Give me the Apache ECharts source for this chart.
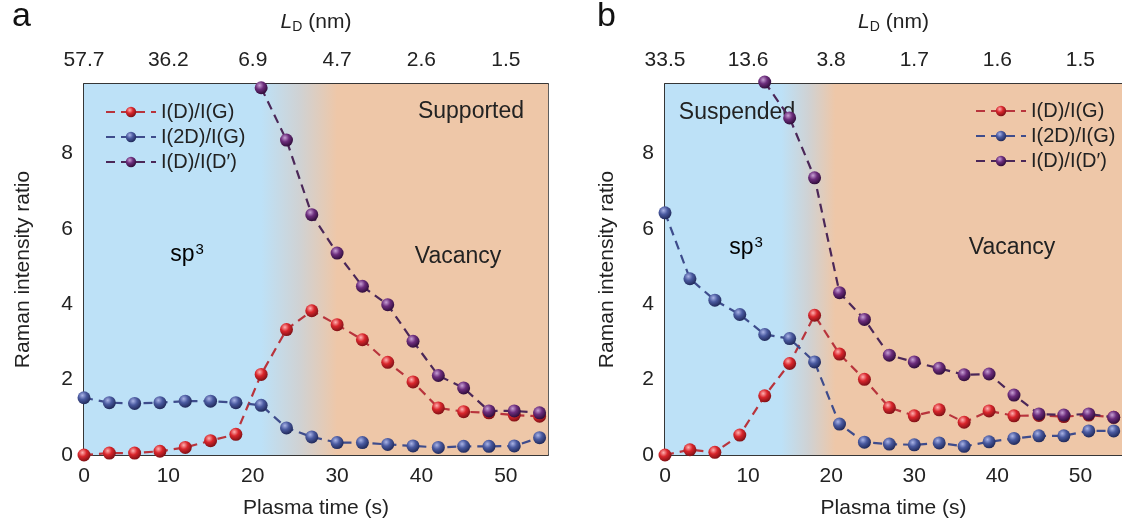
<!DOCTYPE html>
<html><head><meta charset="utf-8">
<script src="https://cdn.jsdelivr.net/npm/echarts@6/dist/echarts.min.js"></script>
<style>html,body{margin:0;padding:0;background:#fff;}#c{width:1122px;height:527px;}</style>
</head><body><div id="c"></div>
<script>
// ---- data ----
const times = [0,3,6,9,12,15,18,21,24,27,30,33,36,39,42,45,48,51,54];
const topLabelsA = ['57.7','36.2','6.9','4.7','2.6','1.5'];
const topLabelsB = ['33.5','13.6','3.8','1.7','1.6','1.5'];
const seriesNames = ['I(D)/I(G)','I(2D)/I(G)','I(D)/I(D\u2032)'];

// panel a (Supported)
const aDG   = [0,0.05,0.05,0.1,0.2,0.38,0.55,2.14,3.33,3.83,3.46,3.06,2.46,1.94,1.25,1.15,1.12,1.06,1.03];
const a2DG  = [1.52,1.39,1.37,1.39,1.43,1.43,1.39,1.32,0.72,0.48,0.33,0.33,0.28,0.24,0.2,0.23,0.23,0.24,0.46];
const aDDp  = [null,null,null,null,null,null,null,9.75,8.36,6.38,5.36,4.48,3.99,3.02,2.11,1.78,1.17,1.17,1.12];

// panel b (Suspended)
const bDG   = [0,0.14,0.07,0.53,1.57,2.43,3.71,2.68,2.01,1.26,1.04,1.2,0.87,1.17,1.04,1.05,1.02,1.06,1.0];
const b2DG  = [6.43,4.68,4.11,3.73,3.2,3.09,2.47,0.82,0.34,0.29,0.27,0.32,0.23,0.35,0.44,0.51,0.51,0.64,0.64];
const bDDp  = [null,null,null,null,9.9,8.95,7.36,4.31,3.6,2.65,2.47,2.3,2.13,2.15,1.59,1.09,1.06,1.09,1.0];

// background regions (plasma time, s)
const X_MAX = 55, Y_MAX = 9.85;
const regionA = [21, 30];
const regionB = [14, 20.5];

// ---- styling ----
const FONT = '"Liberation Sans", Arial, sans-serif';
const ballColors = [
  ['#ffb0b0','#d9262c','#7d1015'],
  ['#aab4e6','#4a5aa0','#1f2858'],
  ['#c7a0d4','#6c2d7c','#2e0c38']
];
const lineColors = ['#b8343c','#3e4c8c','#4b2758'];
function ball(i){
  const c = ballColors[i];
  return {type:'radial', x:0.38, y:0.32, r:0.7,
    colorStops:[{offset:0,color:c[0]},{offset:0.45,color:c[1]},{offset:1,color:c[2]}]};
}
function pairs(arr){ return times.map((t,i)=>[t, arr[i]]); }
function bg(r){
  return {type:'linear', x:0, y:0, x2:1, y2:0, colorStops:[
    {offset:0, color:'#bde1f7'},
    {offset:r[0]/X_MAX, color:'#bde1f7'},
    {offset:(r[0]+r[1])/2/X_MAX, color:'#cfd2d4'},
    {offset:r[1]/X_MAX, color:'#eec7a8'},
    {offset:1, color:'#eec7a8'}]};
}

const grids = [
  {left:84, top:84, width:464, height:371, show:true, borderColor:'#2a2a2a', borderWidth:1.5, backgroundColor:'transparent'},
  {left:665, top:84, width:466, height:371, show:true, borderColor:'#2a2a2a', borderWidth:1.5, backgroundColor:'transparent'}
];
const TICK = 21, TITLE = 21;

function xBottom(g){
  return {type:'value', gridIndex:g, position:'bottom', min:0, max:X_MAX, interval:5,
    name:'Plasma time (s)', nameLocation:'middle', nameGap:43,
    nameTextStyle:{fontFamily:FONT, fontSize:TITLE, color:'#222'},
    axisLine:{show:true, lineStyle:{color:'#2a2a2a', width:1.5}},
    axisTick:{show:true, inside:true, length:6, lineStyle:{color:'#2a2a2a', width:1.3}},
    axisLabel:{fontFamily:FONT, fontSize:TICK, color:'#222', margin:11, showMaxLabel:false,
      formatter:v=> (v%10===0 ? String(v) : '')},
    splitLine:{show:false}};
}
function xTop(g, labels){
  return {type:'value', gridIndex:g, position:'top', min:0, max:X_MAX, interval:10,
    name:'{i|L}{s|D} (nm)', nameLocation:'middle', nameGap:50,
    nameTextStyle:{fontFamily:FONT, fontSize:TITLE, color:'#222',
      rich:{i:{fontFamily:FONT, fontSize:TITLE, fontStyle:'italic', color:'#222'},
            s:{fontFamily:FONT, fontSize:14, color:'#222', padding:[9,0,0,0]}}},
    axisLine:{show:true, lineStyle:{color:'#2a2a2a', width:1.5}},
    axisTick:{show:true, inside:true, length:6, lineStyle:{color:'#2a2a2a', width:1.3}},
    axisLabel:{fontFamily:FONT, fontSize:TICK, color:'#222', margin:13, showMaxLabel:false,
      formatter:v=> { const k = Math.round(v/10); return (v%10===0 && labels[k]) ? labels[k] : ''; }},
    splitLine:{show:false}};
}
function yLeft(g, gap){
  return {type:'value', gridIndex:g, min:0, max:Y_MAX, interval:1,
    name:'Raman intensity ratio', nameLocation:'middle', nameGap:gap,
    nameTextStyle:{fontFamily:FONT, fontSize:TITLE, color:'#222'},
    axisLine:{show:true, lineStyle:{color:'#2a2a2a', width:1.5}},
    axisTick:{show:true, inside:true, length:6, lineStyle:{color:'#2a2a2a', width:1.3}},
    axisLabel:{fontFamily:FONT, fontSize:TICK, color:'#222', margin:11, showMaxLabel:false,
      formatter:v=> (v%2===0 ? String(v) : '')},
    splitLine:{show:false}};
}

function lineSeries(idx, g, arr){
  return {type:'line', name:seriesNames[idx], xAxisIndex:g*2, yAxisIndex:g,
    data:pairs(arr), connectNulls:false, clip:false, z:3+idx,
    symbol:'circle', symbolSize:13,
    itemStyle:{color:ball(idx)},
    lineStyle:{color:lineColors[idx], width:2.2, type:[9,6]},
    emphasis:{disabled:true}, animation:false};
}
function bgSeries(g, r){
  return {type:'line', name:'bg'+g, xAxisIndex:g*2, yAxisIndex:g, data:[], z:1, silent:true,
    markArea:{silent:true, itemStyle:{color:bg(r), opacity:1},
      data:[[{xAxis:0, yAxis:0},{xAxis:X_MAX, yAxis:Y_MAX}]]}, animation:false};
}

const legendBase = {orient:'vertical', itemWidth:50, itemHeight:13, itemGap:5,
  textStyle:{fontFamily:FONT, fontSize:20, color:'#222', lineHeight:20},
  data:seriesNames, selectedMode:false};

const supText = (x,y)=>({type:'text', x:x, y:y, z:10, style:{text:'{a|sp}{b|3}', align:'center', verticalAlign:'middle',
  rich:{a:{fontFamily:FONT, fontSize:23, color:'#222'}, b:{fontFamily:FONT, fontSize:15, color:'#222', padding:[0,0,11,1]}}}});
const label = (x,y,t,z)=>({type:'text', x:x, y:y, z:z, style:{text:t, font:'23px '+FONT, fill:'#222', align:'center', verticalAlign:'middle'}});

const option = {
  animation:false,
  backgroundColor:'#fff',
  grid:grids,
  xAxis:[xBottom(0), xTop(0, topLabelsA), xBottom(1), xTop(1, topLabelsB)],
  yAxis:[yLeft(0, 50), yLeft(1, 47)],
  legend:[
    Object.assign({}, legendBase, {left:100, top:97}),
    Object.assign({}, legendBase, {left:970, top:96})
  ],
  series:[
    bgSeries(0, regionA),
    lineSeries(0,0,aDG), lineSeries(1,0,a2DG), lineSeries(2,0,aDDp),
    bgSeries(1, regionB),
    lineSeries(0,1,bDG), lineSeries(1,1,b2DG), lineSeries(2,1,bDDp)
  ],
  graphic:[
    {type:'text', left:12, top:0, style:{text:'a', font:'34px '+FONT, fill:'#111'}},
    {type:'text', left:597, top:0, style:{text:'b', font:'34px '+FONT, fill:'#111'}},
    label(471,112,'Supported',10),
    label(458,257,'Vacancy',10),
    supText(187,255),
    label(737,113,'Suspended',2),
    supText(746,248),
    label(1012,248,'Vacancy',10)
  ]
};
const chart = echarts.init(document.getElementById('c'), null, {renderer:'canvas'});
chart.setOption(option);
</script>
</body></html>
